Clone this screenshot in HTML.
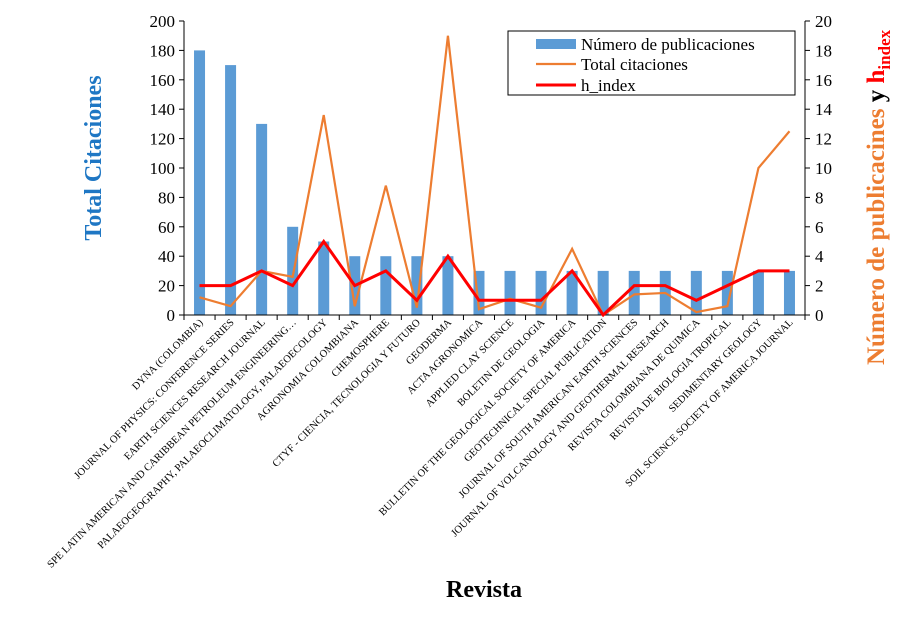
<!DOCTYPE html>
<html><head><meta charset="utf-8"><style>
body{margin:0;background:#fff}
svg{font-family:"Liberation Serif",serif}
</style></head><body>
<svg id="c" width="907" height="624"></svg>
<script>
const categories=["DYNA (COLOMBIA)","JOURNAL OF PHYSICS: CONFERENCE SERIES","EARTH SCIENCES RESEARCH JOURNAL","SPE LATIN AMERICAN AND CARIBBEAN PETROLEUM ENGINEERING…","PALAEOGEOGRAPHY, PALAEOCLIMATOLOGY, PALAEOECOLOGY","AGRONOMIA COLOMBIANA","CHEMOSPHERE","CTYF - CIENCIA, TECNOLOGIA Y FUTURO","GEODERMA","ACTA AGRONOMICA","APPLIED CLAY SCIENCE","BOLETIN DE GEOLOGIA","BULLETIN OF THE GEOLOGICAL SOCIETY OF AMERICA","GEOTECHNICAL SPECIAL PUBLICATION","JOURNAL OF SOUTH AMERICAN EARTH SCIENCES","JOURNAL OF VOLCANOLOGY AND GEOTHERMAL RESEARCH","REVISTA COLOMBIANA DE QUIMICA","REVISTA DE BIOLOGIA TROPICAL","SEDIMENTARY GEOLOGY","SOIL SCIENCE SOCIETY OF AMERICA JOURNAL"];
const publicaciones=[180,170,130,60,50,40,40,40,40,30,30,30,30,30,30,30,30,30,30,30];
const citaciones=[1.2,0.6,3,2.6,13.6,0.6,8.8,0.5,19,0.4,1.1,0.5,4.5,0,1.4,1.5,0.2,0.6,10,12.5];
const hIndex=[2,2,3,2,5,2,3,1,4,1,1,1,3,0,2,2,1,2,3,3];
const leftTicks=[0,20,40,60,80,100,120,140,160,180,200];
const rightTicks=[0,2,4,6,8,10,12,14,16,18,20];

const NS="http://www.w3.org/2000/svg",svg=document.getElementById('c');
const X0=184,X1=805,Y0=315,Y1=21;
const bw=(X1-X0)/categories.length;
const xc=i=>X0+bw*(i+0.5);
const yL=v=>Y0-(v/200)*(Y0-Y1);
const yR=v=>Y0-(v/20)*(Y0-Y1);
function mk(t,a,p){const e=document.createElementNS(NS,t);for(const k in a)e.setAttribute(k,a[k]);(p||svg).appendChild(e);return e;}

publicaciones.forEach((v,i)=>{
 const r=mk('rect',{x:xc(i)-5.5,y:yL(v),width:11,height:Y0-yL(v),fill:'#5b9bd5'});
 
 
});
let ax=mk('line',{x1:X0,y1:Y1,x2:X0,y2:Y0,stroke:'#000'});

ax=mk('line',{x1:X1,y1:Y1,x2:X1,y2:Y0,stroke:'#000'});

ax=mk('line',{x1:X0,y1:Y0,x2:X1,y2:Y0,stroke:'#000'});

leftTicks.forEach(v=>{
 mk('line',{x1:X0-5,y1:yL(v),x2:X0,y2:yL(v),stroke:'#000'});
 const t=mk('text',{x:X0-9,y:yL(v)+6,'text-anchor':'end','font-size':17});t.textContent=v;
 
});
rightTicks.forEach(v=>{
 mk('line',{x1:X1,y1:yR(v),x2:X1+5,y2:yR(v),stroke:'#000'});
 const t=mk('text',{x:X1+10,y:yR(v)+6,'font-size':17});t.textContent=v;
 
});
for(let i=0;i<=categories.length;i++)mk('line',{x1:X0+bw*i,y1:Y0,x2:X0+bw*i,y2:Y0+5,stroke:'#000'});
categories.forEach((c,i)=>{
 const x=xc(i)+4,y=323;
 const t=mk('text',{x:x,y:y,'text-anchor':'end','font-size':10.5,transform:`rotate(-45 ${x} ${y})`});t.textContent=c;
 
});
const pts=(arr)=>arr.map((v,i)=>xc(i)+','+yR(v)).join(' ');
let l=mk('polyline',{points:pts(citaciones),fill:'none',stroke:'#ed7d31','stroke-width':2.2});

l=mk('polyline',{points:pts(hIndex),fill:'none',stroke:'#ff0000','stroke-width':3});

</script>
<svg width="907" height="624" style="position:absolute;left:0;top:0">
 <g font-family="Liberation Serif,serif" font-size="17">
  <rect x="508" y="31" width="287" height="64" fill="#fff" stroke="#000" stroke-width="1"/>
  <rect x="536" y="39" width="40" height="10" fill="#5b9bd5"/>
  <text x="581" y="50">Número de publicaciones</text>
  <line x1="536" y1="64" x2="576" y2="64" stroke="#ed7d31" stroke-width="2.2"/>
  <text x="581" y="70">Total citaciones</text>
  <line x1="536" y1="85" x2="576" y2="85" stroke="#ff0000" stroke-width="3"/>
  <text x="581" y="91">h_index</text>
 </g>
 <text transform="translate(101 158) rotate(-90)" text-anchor="middle" font-family="Liberation Serif,serif" font-weight="bold" font-size="24" fill="#1f77c4">Total Citaciones</text>
 <text transform="translate(884 365) rotate(-90)" font-family="Liberation Serif,serif" font-weight="bold" font-size="25" fill="#ed7d31">Número de publicacines <tspan fill="#000">y</tspan> <tspan fill="#ff0000">h</tspan><tspan fill="#ff0000" font-size="17" dy="6">index</tspan></text>
 <text x="484" y="597" text-anchor="middle" font-family="Liberation Serif,serif" font-weight="bold" font-size="24">Revista</text>
</svg>
</body></html>
